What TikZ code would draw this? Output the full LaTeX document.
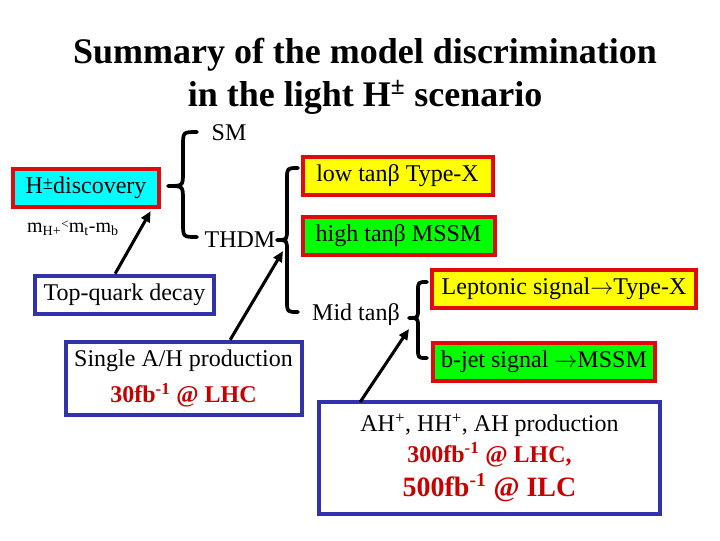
\documentclass[tikz,border=0pt]{standalone}
\usepackage{fontspec}
\setmainfont{Liberation Serif}
\usetikzlibrary{arrows.meta}
\definecolor{boxred}{RGB}{225,10,10}
\definecolor{boxblue}{RGB}{50,50,170}
\definecolor{txtred}{RGB}{200,0,0}
\definecolor{fcyan}{RGB}{0,255,255}
\definecolor{fyellow}{RGB}{255,255,0}
\definecolor{fgreen}{RGB}{0,255,0}
\tikzset{
  redbox/.style={draw=boxred,line width=3pt,inner sep=0pt,align=center,font=\fontsize{18}{26}\selectfont},
  bluebox/.style={draw=boxblue,line width=3pt,fill=white,inner sep=0pt,align=center,font=\fontsize{18}{26}\selectfont},
  plain/.style={inner sep=0pt,font=\fontsize{18}{22}\selectfont},
  bracepath/.style={line width=2.8pt,line cap=round,line join=round},
  arr/.style={line width=2.3pt,-{Triangle[length=8pt,width=7pt]}}
}
\newcommand{\bfr}[1]{\textcolor{txtred}{\textbf{#1}}}
\newcommand{\myarrow}{\ensuremath{\rightarrow}}
\begin{document}
\begin{tikzpicture}[x=0.75pt,y=-0.75pt]
\useasboundingbox (0,0) rectangle (720,540);
% title
\node[align=center,font=\fontsize{27}{32}\selectfont\bfseries] (title) at (365,76)
  {Summary of the model discrimination\\in the light H\textsuperscript{±} scenario};
% plain labels
\node[plain] (sm) at (229,133) {SM};
\node[plain] (thdm) at (240,240) {THDM};
\node[plain] (mid) at (356,315) {Mid tanβ};
\node[inner sep=0pt,font=\fontsize{15}{16}\selectfont] (mass) at (73,228)
  {m\textsubscript{H+}\raisebox{0.45ex}{\fontsize{10}{10}\selectfont<}m\textsubscript{t}-m\textsubscript{b}};
% boxes
\node[redbox,fill=fcyan,minimum width=110pt,minimum height=28.5pt] (hdisc) at (86,187.5)
  {H\raisebox{0.3ex}{\fontsize{14}{14}\selectfont ±}discovery};
\node[redbox,fill=fyellow,minimum width=142.5pt,minimum height=28.5pt] (lowtan) at (397.5,175.5)
  {low tanβ Type-X};
\node[redbox,fill=fgreen,minimum width=144pt,minimum height=28.5pt] (hightan) at (398.5,235.5)
  {high tanβ MSSM};
\node[redbox,fill=fyellow,minimum width=198pt,minimum height=29pt] (lepton) at (564,289)
  {Leptonic signal\myarrow Type-X};
\node[redbox,fill=fgreen,minimum width=167pt,minimum height=28.5pt] (bjet) at (544,361.5)
  {b-jet signal \myarrow MSSM};
\node[bluebox,minimum width=134pt,minimum height=29pt] (topq) at (124.5,295)
  {Top-quark decay};
\node[bluebox,minimum width=177pt,minimum height=55pt] (single) at (183.5,378.5)
  {Single A/H production\\[1pt]\bfr{30fb\textsuperscript{-1} @ LHC}};
\node[bluebox,minimum width=256pt,minimum height=84pt] (ah) at (489.5,458)
  {AH\textsuperscript{+}, HH\textsuperscript{+}, AH production\\[-3pt]
   \bfr{300fb\textsuperscript{-1} @ LHC,}\\[0pt]
   {\fontsize{21}{26}\selectfont\bfr{500fb\textsuperscript{-1} @ ILC}}};
% braces
\draw[bracepath] (197,132) .. controls (183,132) .. (183,146) -- (183,172)
  .. controls (183,186) .. (168,186) .. controls (183,186) .. (183,200) -- (183,223)
  .. controls (183,237) .. (197,237);
\coordinate (tip1) at (168,186);
\draw[bracepath] (298,168) .. controls (287,168) .. (287,179) -- (287,229)
  .. controls (287,240) .. (277,240) .. controls (287,240) .. (287,251) -- (287,301)
  .. controls (287,312) .. (298,312);
\coordinate (tip2) at (283,251);
\draw[bracepath] (427,282) .. controls (418,282) .. (418,291) -- (418,309)
  .. controls (418,318) .. (409,318) .. controls (418,318) .. (418,327) -- (418,349)
  .. controls (418,358) .. (427,358);
\coordinate (tip3) at (409,329);
% arrows
\draw[arr] ([xshift=-7pt]topq.north) -- ([xshift=-8pt,yshift=-2pt]hdisc.south east);
\draw[arr] ([xshift=35pt]single.north) -- (tip2);
\draw[arr] ([xshift=-97pt,yshift=-1.5pt]ah.north) -- (tip3);
\end{tikzpicture}
\end{document}
